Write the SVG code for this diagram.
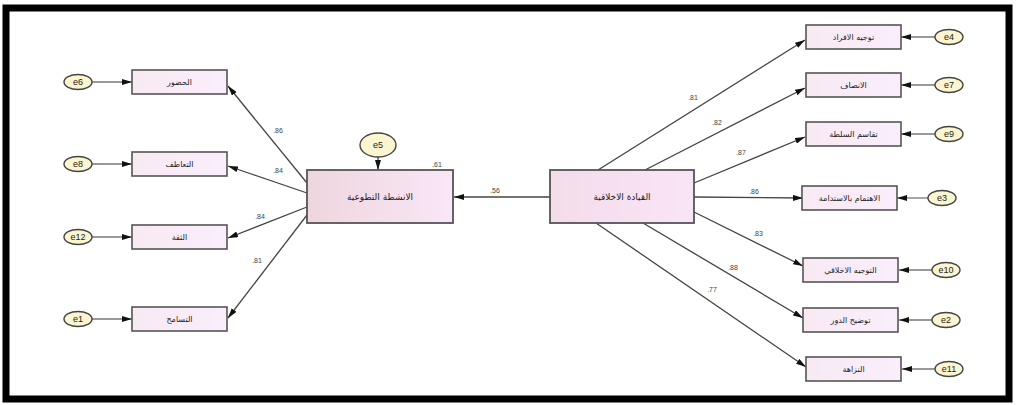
<svg xmlns="http://www.w3.org/2000/svg" width="1016" height="405" viewBox="0 0 1016 405">
<style>
.frame{fill:#fff;stroke:#000;stroke-width:7}
.obs{fill:url(#gObs);stroke:#555;stroke-width:1.6}
.lat{stroke:#555;stroke-width:1.8}
.err{fill:#fbf6cf;stroke:#444;stroke-width:1.4}
.c{stroke:#444;stroke-width:1.3;fill:none;marker-end:url(#ah)}
.ce{stroke:#777;stroke-width:1.3;fill:none;marker-end:url(#ah)}
.t{font-family:"DejaVu Sans","Noto Sans",sans-serif;font-size:8px;fill:#222;text-anchor:middle;dominant-baseline:central}
.tl{font-family:"DejaVu Sans","Noto Sans",sans-serif;font-size:9px;fill:#222;text-anchor:middle;dominant-baseline:central}
.te{font-family:"Liberation Sans",Arial,sans-serif;font-size:9px;fill:#222;text-anchor:middle;dominant-baseline:central}
.w{font-family:"Liberation Sans",Arial,sans-serif;font-size:7px;fill:#444;text-anchor:middle;dominant-baseline:central}
</style>
<defs>
<linearGradient id="gObs" x1="0" y1="0" x2="1" y2="0"><stop offset="0" stop-color="#f7eaf3"/><stop offset="1" stop-color="#fbeefc"/></linearGradient>
<linearGradient id="gL1" x1="0" y1="0" x2="1" y2="0"><stop offset="0" stop-color="#eed6de"/><stop offset="1" stop-color="#f9e6f6"/></linearGradient>
<linearGradient id="gL2" x1="0" y1="0" x2="1" y2="0"><stop offset="0" stop-color="#f4dcea"/><stop offset="1" stop-color="#f9e4f6"/></linearGradient>
<marker id="ah" viewBox="0 0 10 6" refX="10" refY="3" markerWidth="10" markerHeight="6" markerUnits="userSpaceOnUse" orient="auto"><path d="M0,0 L10,3 L0,6 Z" fill="#111"/></marker>
</defs>
<rect class="frame" x="6" y="8" width="1003" height="391"/>

<g id="connectors">
<line class="ce" x1="92" y1="82" x2="132" y2="82"/>
<line class="ce" x1="92" y1="164" x2="132" y2="164"/>
<line class="ce" x1="92" y1="237" x2="132" y2="237"/>
<line class="ce" x1="92" y1="319" x2="132" y2="319"/>
<line class="c" x1="307" y1="183" x2="228" y2="86"/>
<line class="c" x1="307" y1="193" x2="228" y2="166"/>
<line class="c" x1="307" y1="207" x2="228" y2="238"/>
<line class="c" x1="307" y1="215" x2="228" y2="318"/>
<line class="c" x1="378" y1="157" x2="378" y2="170"/>
<line class="c" x1="550" y1="197" x2="454" y2="197"/>
<line class="c" x1="598" y1="170" x2="805" y2="40"/>
<line class="c" x1="645" y1="170" x2="805" y2="88"/>
<line class="c" x1="694" y1="183" x2="805" y2="137"/>
<line class="c" x1="694" y1="197" x2="803" y2="198"/>
<line class="c" x1="694" y1="212" x2="803" y2="266"/>
<line class="c" x1="643" y1="223" x2="803" y2="318"/>
<line class="c" x1="596" y1="223" x2="806" y2="367"/>
<line class="ce" x1="935" y1="37" x2="901" y2="37"/>
<line class="ce" x1="935" y1="85" x2="901" y2="85"/>
<line class="ce" x1="935" y1="134" x2="901" y2="134"/>
<line class="ce" x1="928" y1="198" x2="897" y2="198"/>
<line class="ce" x1="932" y1="270" x2="899" y2="270"/>
<line class="ce" x1="932" y1="320" x2="899" y2="320"/>
<line class="ce" x1="935" y1="369" x2="902" y2="369"/>
<text class="w" x="278" y="130">.86</text>
<text class="w" x="278" y="170">.84</text>
<text class="w" x="260" y="216">.84</text>
<text class="w" x="257" y="260">.81</text>
<text class="w" x="437" y="164">.61</text>
<text class="w" x="495" y="190">.56</text>
<text class="w" x="693" y="97">.81</text>
<text class="w" x="717" y="122">.82</text>
<text class="w" x="741" y="152">.87</text>
<text class="w" x="754" y="191">.86</text>
<text class="w" x="758" y="233">.83</text>
<text class="w" x="733" y="267">.88</text>
<text class="w" x="712" y="289">.77</text>
</g>

<g id="e6"><ellipse class="err" cx="78" cy="82" rx="14" ry="7.5"/><text class="te" x="78" y="82">e6</text></g>
<g id="e8"><ellipse class="err" cx="78" cy="164" rx="14" ry="7.5"/><text class="te" x="78" y="164">e8</text></g>
<g id="e12"><ellipse class="err" cx="78" cy="237" rx="14" ry="7.5"/><text class="te" x="78" y="237">e12</text></g>
<g id="e1"><ellipse class="err" cx="78" cy="319" rx="14" ry="7.5"/><text class="te" x="78" y="319">e1</text></g>

<g id="x1"><rect class="obs" x="132" y="70" width="95" height="24"/><text class="t" x="179.5" y="82">الحضور</text></g>
<g id="x2"><rect class="obs" x="132" y="152" width="95" height="24"/><text class="t" x="179.5" y="164">التعاطف</text></g>
<g id="x3"><rect class="obs" x="132" y="225" width="95" height="24"/><text class="t" x="179.5" y="237">الثقة</text></g>
<g id="x4"><rect class="obs" x="132" y="307" width="95" height="24"/><text class="t" x="179.5" y="319">التسامح</text></g>

<g id="e5"><ellipse class="err" cx="378" cy="145" rx="18" ry="12"/><text class="te" x="378" y="145">e5</text></g>
<g id="latent1"><rect class="lat" fill="url(#gL1)" x="307" y="170" width="146" height="53"/><text class="tl" x="380" y="197">الانشطة التطوعية</text></g>
<g id="latent2"><rect class="lat" fill="url(#gL2)" x="550" y="170" width="144" height="53"/><text class="tl" x="622" y="197">القيادة الاخلاقية</text></g>

<g id="y1"><rect class="obs" x="806" y="25" width="95" height="24"/><text class="t" x="853.5" y="37">توجيه الافراد</text></g>
<g id="y2"><rect class="obs" x="806" y="73" width="95" height="24"/><text class="t" x="853.5" y="85">الانصاف</text></g>
<g id="y3"><rect class="obs" x="806" y="122" width="95" height="24"/><text class="t" x="853.5" y="134">تقاسم السلطة</text></g>
<g id="y4"><rect class="obs" x="802" y="186" width="95" height="24"/><text class="t" x="849.5" y="198">الاهتمام بالاستدامة</text></g>
<g id="y5"><rect class="obs" x="803" y="258" width="95" height="24"/><text class="t" x="850.5" y="270">التوجيه الاخلاقي</text></g>
<g id="y6"><rect class="obs" x="803" y="308" width="95" height="24"/><text class="t" x="850.5" y="320">توضيح الدور</text></g>
<g id="y7"><rect class="obs" x="806" y="357" width="95" height="24"/><text class="t" x="853.5" y="369">النزاهة</text></g>

<g id="e4"><ellipse class="err" cx="949" cy="37" rx="14" ry="7.5"/><text class="te" x="949" y="37">e4</text></g>
<g id="e7"><ellipse class="err" cx="949" cy="85" rx="14" ry="7.5"/><text class="te" x="949" y="85">e7</text></g>
<g id="e9"><ellipse class="err" cx="949" cy="134" rx="14" ry="7.5"/><text class="te" x="949" y="134">e9</text></g>
<g id="e3"><ellipse class="err" cx="942" cy="198" rx="14" ry="7.5"/><text class="te" x="942" y="198">e3</text></g>
<g id="e10"><ellipse class="err" cx="946" cy="270" rx="14" ry="7.5"/><text class="te" x="946" y="270">e10</text></g>
<g id="e2"><ellipse class="err" cx="946" cy="320" rx="14" ry="7.5"/><text class="te" x="946" y="320">e2</text></g>
<g id="e11"><ellipse class="err" cx="949" cy="369" rx="14" ry="7.5"/><text class="te" x="949" y="369">e11</text></g>
</svg>
